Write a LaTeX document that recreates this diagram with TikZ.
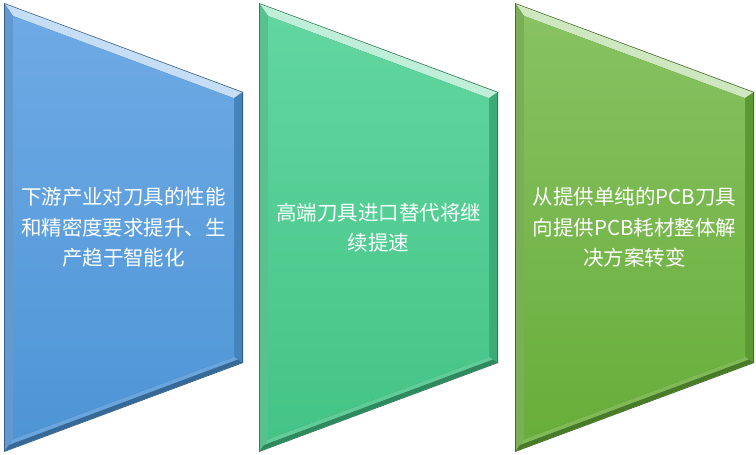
\documentclass[tikz,border=0pt]{standalone}
\usepackage{fontspec}
\newfontfamily\cjk{Noto Sans CJK SC}
\definecolor{bA}{RGB}{110,170,229}
\definecolor{bB}{RGB}{78,149,214}
\definecolor{gA}{RGB}{98,214,160}
\definecolor{gB}{RGB}{68,196,134}
\definecolor{lA}{RGB}{136,194,98}
\definecolor{lB}{RGB}{104,174,58}
\tikzset{
  txt/.style={text=white, align=center, inner sep=0pt, font=\cjk\fontsize{20.5}{30.5}\selectfont},
}
\newcommand\mychevron[5]{%
\begin{scope}[xshift=#1]
  \fill[#4!60!black] (0,452) -- (239,363) -- (239,92) -- (0,3) -- cycle;
  \fill[#3!40!white] (0.8,451) -- (238.2,362.5) -- (230,356.75) -- (9,439.05) -- cycle;
  \fill[#3!90!black] (0.8,451) -- (9,439.05) -- (9,15.95) -- (0.8,4) -- cycle;
  \fill[#4!88!black] (238.2,362.5) -- (238.2,92.5) -- (230,98.25) -- (230,356.75) -- cycle;
  \fill[#4!85!white] (0.8,4) -- (9,15.95) -- (230,98.25) -- (238.2,92.5) -- cycle;
  \fill[#4!70!black] (0.8,4) -- (5,10) -- (234,95.5) -- (238.2,92.5) -- cycle;
  \shade[top color=#3, bottom color=#4] (9,439.05) -- (230,356.75) -- (230,98.25) -- (9,15.95) -- cycle;
  \node[txt] (#2) at (119.5,227.5) {#5};
\end{scope}}
\begin{document}
\begin{tikzpicture}[x=1pt,y=1pt]
\useasboundingbox (0,0) rectangle (756,455);
\mychevron{4pt}{t1}{bA}{bB}{下游产业对刀具的性能\\和精密度要求提升、生\\产趋于智能化}
\mychevron{259pt}{t2}{gA}{gB}{高端刀具进口替代将继\\续提速}
\mychevron{515pt}{t3}{lA}{lB}{从提供单纯的PCB刀具\\向提供PCB耗材整体解\\决方案转变}
\end{tikzpicture}
\end{document}
